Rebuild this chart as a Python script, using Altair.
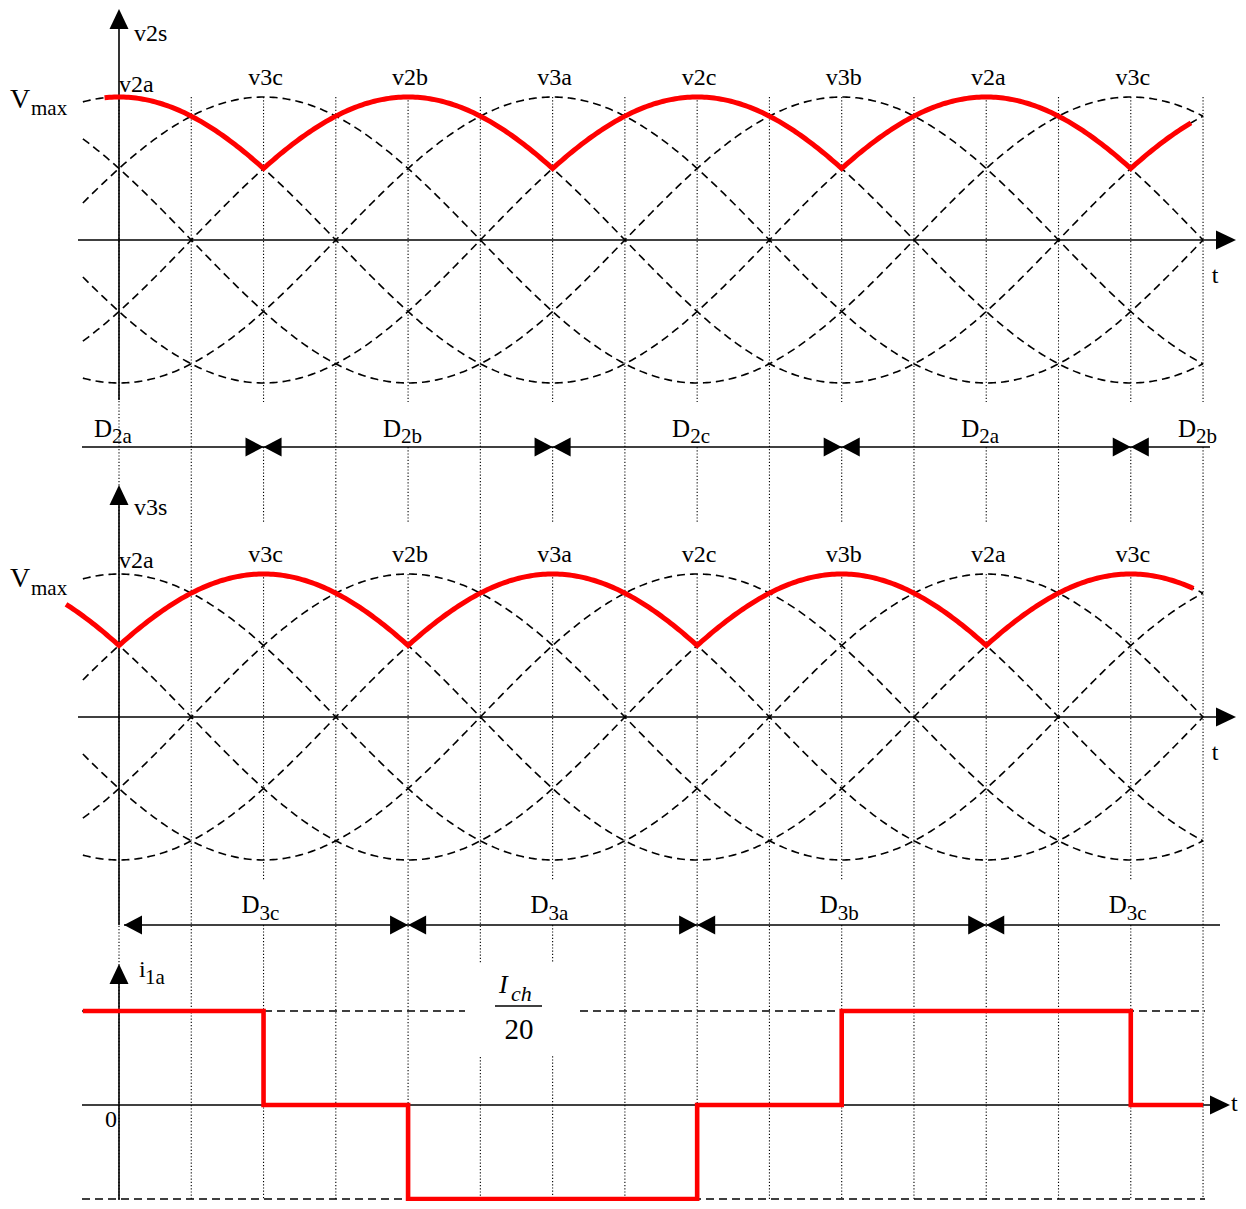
import numpy as np
import pandas as pd
import altair as alt

# ---------------- data ----------------
phase_names = ["v2a", "v3c", "v2b", "v3a", "v2c", "v3b"]
phase_shift_deg = [0, 60, 120, 180, 240, 300]
group2 = ["v2a", "v2b", "v2c"]
group3 = ["v3a", "v3b", "v3c"]
wave_span = [-15, 450]
env_top_span = [-6, 445]
env_mid_span = [-22, 446]

peak_angles = [0, 60, 120, 180, 240, 300, 360, 420]
peak_labels = ["v2a", "v3c", "v2b", "v3a", "v2c", "v3b", "v2a", "v3c"]

grid_angles = list(range(0, 451, 30))

d2_switch = [60, 180, 300, 420]
d2_label_angles = [0, 120, 240, 360, 450]
d2_label_subs = ["2a", "2b", "2c", "2a", "2b"]

d3_switch = [120, 240, 360]
d3_label_angles = [60, 180, 300, 420]
d3_label_subs = ["3c", "3a", "3b", "3c"]

i_edges = [-15, 60, 120, 240, 300, 420, 450]
i_levels = [1, 0, -1, 0, 1, 0]

# ---------------- layout ----------------
FONT = "Liberation Serif"
PX_X = 2.409   # px per degree
PX_Y = 143.0   # px per Vmax
W, H = 1230, 1193
X0 = -111 / PX_X
X1 = X0 + W / PX_X
Y1 = 232 / PX_Y
Y0 = Y1 - H / PX_Y


def px(n):
    return n / PX_Y


def dg(n):
    return n / PX_X


TOP0 = 0.0
MID0 = -px(477)
BOT0 = -px(865)
IAMP = px(94)
HI = BOT0 + IAMP
LO = BOT0 - IAMP
D2_ROW = -px(207)
D3_ROW = MID0 - px(208)
GRID_BOTTOM = LO

xs = alt.Scale(domain=[X0, X1], zero=False, nice=False)
ys = alt.Scale(domain=[Y0, Y1], zero=False, nice=False)
X = alt.X("x:Q", scale=xs, axis=None)
Y = alt.Y("y:Q", scale=ys, axis=None)

shift = dict(zip(phase_names, phase_shift_deg))

# ---------------- grid (dotted verticals) ----------------
g = []
for a in grid_angles:
    if a == 450:
        g += [(a, TOP0 + 1, TOP0 - px(162)), (a, D2_ROW, GRID_BOTTOM)]
    elif a == 0 or (a // 30) % 2 == 1:
        g.append((a, TOP0 + 1, GRID_BOTTOM))
    else:
        g.append((a, TOP0 + 1, TOP0 - px(162)))
        g.append((a, D2_ROW, MID0 + 1 + px(51)))
        if a in d3_label_angles:
            g.append((a, MID0 + 1, D3_ROW + px(45)))
            g.append((a, D3_ROW, GRID_BOTTOM))
        else:
            g.append((a, MID0 + 1, GRID_BOTTOM))
grid_df = pd.DataFrame(g, columns=["x", "y", "y2"])
grid = alt.Chart(grid_df).mark_rule(color="black", strokeWidth=1.1, strokeDash=[1.2, 2]).encode(
    x=X, y=Y, y2="y2:Q")

# ---------------- dashed sinusoids ----------------
theta = np.arange(wave_span[0], wave_span[1] + 0.5, 1.0)
w = []
for pname, z in [("top", TOP0), ("mid", MID0)]:
    for n in phase_names:
        v = np.cos(np.radians(theta - shift[n]))
        for t, val in zip(theta, v):
            w.append((t, z + val, pname + n))
wave_df = pd.DataFrame(w, columns=["x", "y", "s"])
waves = alt.Chart(wave_df).mark_line(color="black", strokeWidth=1.6, strokeDash=[8, 5]).encode(
    x=X, y=Y, detail="s:N")


def envelope(names, span, z, key):
    t = np.arange(span[0], span[1] + 0.01, 1.0)
    vals = np.max([np.cos(np.radians(t - shift[n])) for n in names], axis=0)
    return pd.DataFrame({"x": t, "y": z + vals, "s": key})


env_df = pd.concat([envelope(group2, env_top_span, TOP0, "top"),
                    envelope(group3, env_mid_span, MID0, "mid")])
env = alt.Chart(env_df).mark_line(color="#ff0000", strokeWidth=5).encode(
    x=X, y=Y, detail="s:N")

# ---------------- axes & rows (solid horizontal / vertical lines) ----------------
hl = [
    (dg(-41), dg(1098), TOP0),
    (dg(-41), dg(1098), MID0),
    (dg(-37), dg(1093), BOT0),
    (dg(-37), dg(1091), D2_ROW),
    (dg(5), dg(1101), D3_ROW),
]
hl_df = pd.DataFrame(hl, columns=["x", "x2", "y"])
hlines = alt.Chart(hl_df).mark_rule(color="black", strokeWidth=1.6).encode(x=X, x2="x2:Q", y=Y)

vl = [
    (0, TOP0 - px(160), TOP0 + px(222)),
    (0, D3_ROW, MID0 + px(222)),
    (0, BOT0 - px(95), BOT0 + px(132)),
]
vl_df = pd.DataFrame(vl, columns=["x", "y", "y2"])
vlines = alt.Chart(vl_df).mark_rule(color="black", strokeWidth=1.6).encode(x=X, y=Y, y2="y2:Q")

# dashed current levels
lev_df = pd.DataFrame([
    (dg(-37), dg(346), HI),
    (dg(461), dg(1086), HI),
    (dg(-37), dg(1086), LO),
], columns=["x", "x2", "y"])
levels = alt.Chart(lev_df).mark_rule(color="black", strokeWidth=1.6, strokeDash=[8, 5]).encode(
    x=X, x2="x2:Q", y=Y)

# white box behind the fraction label
box_df = pd.DataFrame([(dg(346), dg(459), HI - px(45), HI + px(48))], columns=["x", "x2", "y", "y2"])
box = alt.Chart(box_df).mark_rect(color="white").encode(x=X, x2="x2:Q", y=Y, y2="y2:Q")

frac_bar_df = pd.DataFrame([(dg(376), dg(423), HI + px(5))], columns=["x", "x2", "y"])
frac_bar = alt.Chart(frac_bar_df).mark_rule(color="black", strokeWidth=1.6).encode(
    x=X, x2="x2:Q", y=Y)

# ---------------- current waveform ----------------
cur_df = pd.DataFrame({"x": i_edges, "y": [BOT0 + IAMP * l for l in i_levels] + [BOT0 + IAMP * i_levels[-1]]})
current = alt.Chart(cur_df).mark_line(color="#ff0000", strokeWidth=4.6, interpolate="step-after").encode(
    x=X, y=Y)

# ---------------- arrowheads ----------------
RIGHT = "M0,0L-1,-0.475L-1,0.475Z"
LEFT = "M0,0L1,-0.475L1,0.475Z"
UP = "M0,0L-0.475,1L0.475,1Z"
RIGHT_S = "M0,0L-1,-0.53L-1,0.53Z"
LEFT_S = "M0,0L1,-0.53L1,0.53Z"


def heads(rows, shape, size):
    df = pd.DataFrame(rows, columns=["x", "y"])
    return alt.Chart(df).mark_point(shape=shape, size=size, filled=True, color="black",
                                    opacity=1, strokeWidth=0).encode(x=X, y=Y)


tip = dg(1117)
ax_right = heads([(tip, TOP0), (tip, MID0), (dg(1111), BOT0)], RIGHT, 1600)
ax_up = heads([(0, TOP0 + px(231)), (0, MID0 + px(232)), (0, BOT0 + px(141))], UP, 1600)
row_right = heads([(b, D2_ROW) for b in d2_switch] + [(b, D3_ROW) for b in d3_switch], RIGHT_S, 1300)
row_left = heads([(b, D2_ROW) for b in d2_switch] + [(b, D3_ROW) for b in d3_switch]
                 + [(dg(5), D3_ROW)], LEFT_S, 1300)


# ---------------- texts ----------------
def text_layer(rows, size, align="center", italic=False):
    df = pd.DataFrame(rows, columns=["x", "y", "text"])
    return alt.Chart(df).mark_text(font=FONT, fontSize=size, align=align, baseline="alphabetic",
                                   color="black", fontStyle="italic" if italic else "normal").encode(
        x=X, y=Y, text="text:N")


center24 = []
for z in (TOP0, MID0):
    for a, lab in zip(peak_angles[1:], peak_labels[1:]):
        center24.append((a + dg(2), z + 1 + px(12), lab))
    center24.append((dg(1096), z - px(43), "t"))
center24.append((dg(-8), BOT0 - px(22), "0"))

left24 = [
    (0, TOP0 + 1 + px(5), peak_labels[0]),
    (0, MID0 + 1 + px(6), peak_labels[0]),
    (dg(15), TOP0 + px(199), "v2s"),
    (dg(15), MID0 + px(202), "v3s"),
    (dg(20), BOT0 + px(128), "i"),
    (dg(1112), BOT0 - px(6), "t"),
]
left27 = [
    (dg(-109), TOP0 + px(132), "V"),
    (dg(-109), MID0 + px(130), "V"),
]
left21 = [
    (dg(-88), TOP0 + px(125), "max"),
    (dg(-88), MID0 + px(122), "max"),
]
right24 = [(a - dg(7), D2_ROW + px(10), "D") for a in d2_label_angles] + \
          [(a - dg(4), D3_ROW + px(12), "D") for a in d3_label_angles]
left21b = [(a - dg(7), D2_ROW + px(4), s) for a, s in zip(d2_label_angles, d2_label_subs)] + \
          [(a - dg(4), D3_ROW + px(5), s) for a, s in zip(d3_label_angles, d3_label_subs)] + \
          [(dg(26), BOT0 + px(121), "1a")]

texts = [
    text_layer(center24, 24, "center"),
    text_layer(left24, 24, "left"),
    text_layer(left27, 28, "left"),
    text_layer(left21, 21, "left"),
    text_layer(right24, 25, "right"),
    text_layer(left21b, 21, "left"),
    text_layer([(dg(380), HI + px(18), "I")], 26, "left", italic=True),
    text_layer([(dg(392), HI + px(10), "ch")], 22, "left", italic=True),
    text_layer([(dg(400), HI - px(28), "20")], 29, "center"),
]

chart = alt.layer(
    grid, waves, levels, box, frac_bar, hlines, vlines, env, current,
    ax_right, ax_up, row_right, row_left, *texts
).properties(
    width=W, height=H, padding=0, background="white",
    autosize=alt.AutoSizeParams(type="none"),
).configure_view(stroke=None)

chart.save("out.html", embed_options={"renderer": "svg", "actions": False})
